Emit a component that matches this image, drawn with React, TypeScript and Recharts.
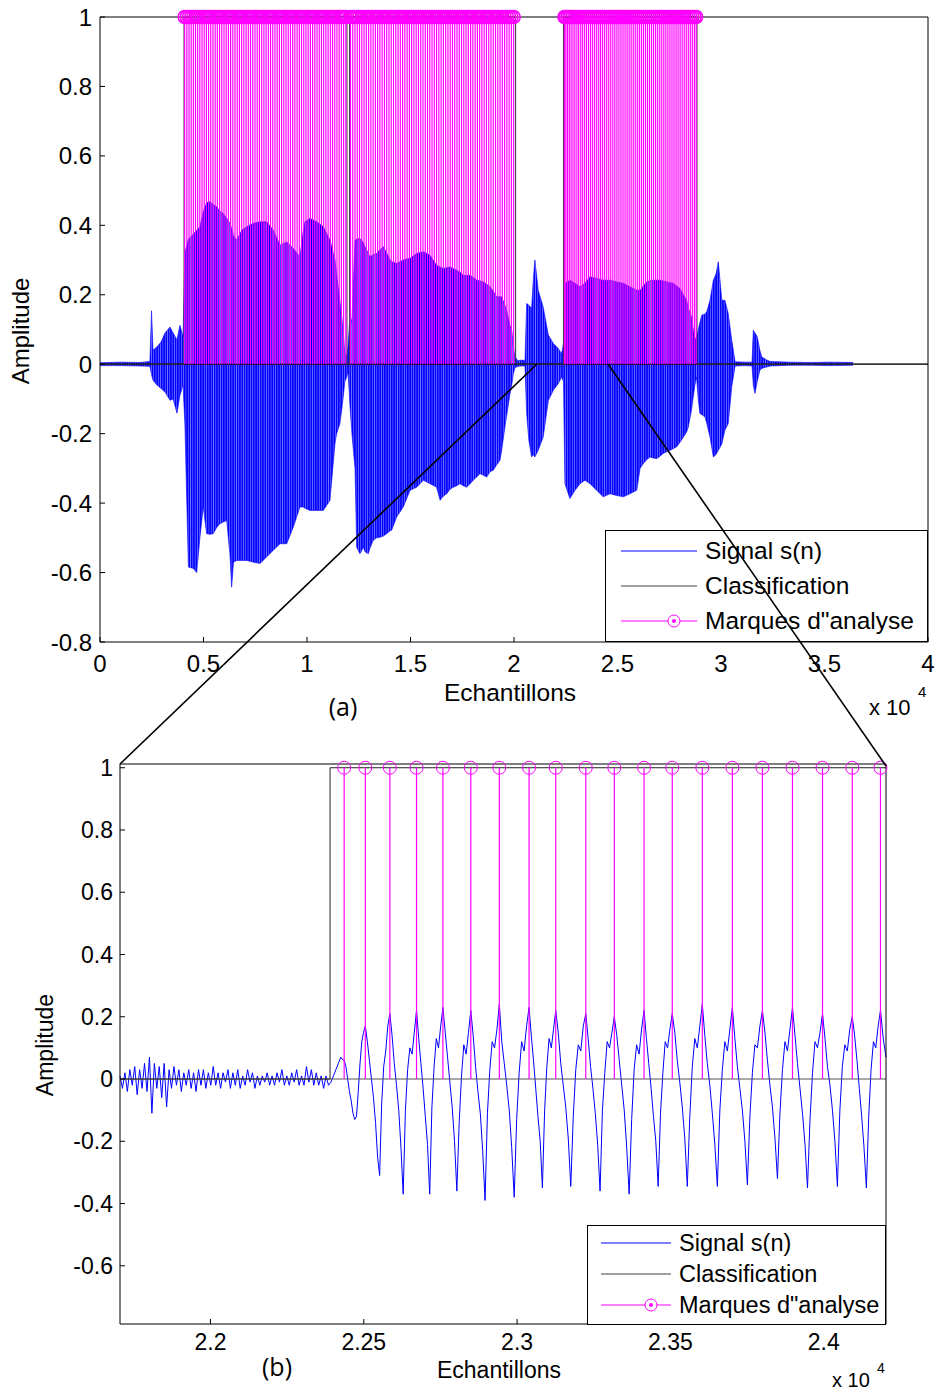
import React from 'react';
import { ComposedChart, Area, Line, Scatter, XAxis, YAxis, ReferenceLine } from 'recharts';

const FONT = '"Liberation Sans", Arial, Helvetica, sans-serif';
const BLUE = '#0000ff';
const MAGENTA = '#ff00ff';

// ---------- (a) whole utterance: envelope of s(n) (sample index, max, min)
const envX = [
  0, 970, 1930, 2410, 2490, 2560, 2750, 2950, 3140, 3380,
  3530, 3720, 3860, 4010, 4100, 4270, 4510, 4670, 4830, 4990,
  5150, 5310, 5470, 5640, 5800, 5940, 6120, 6280, 6360, 6450,
  6600, 6850, 7090, 7410, 7730, 8050, 8370, 8700, 9020, 9340,
  9660, 9810, 9900, 10140, 10470, 10790, 11110, 11350, 11430, 11590,
  11680, 11750, 11830, 11920, 11980, 12080, 12170, 12320, 12400, 12560,
  12720, 12800, 12960, 13040, 13200, 13370, 13530, 13690, 13850, 14010,
  14090, 14330, 14650, 14980, 15300, 15620, 15940, 16260, 16430, 16580,
  16750, 16910, 17070, 17230, 17390, 17550, 17710, 17870, 18030, 18200,
  18360, 18520, 18680, 18840, 19000, 19160, 19320, 19400, 19560, 19640,
  19810, 19890, 19970, 20050, 20190, 20390, 20530, 20610, 20720, 20850,
  20940, 21010, 21170, 21410, 21660, 21900, 22140, 22300, 22390, 22460,
  22700, 22950, 23190, 23430, 23670, 23990, 24310, 24640, 24960, 25280,
  25600, 25930, 26090, 26250, 26410, 26570, 26730, 26890, 27050, 27210,
  27380, 27540, 27700, 27860, 28020, 28180, 28340, 28420, 28580, 28660,
  28740, 28820, 28900, 28980, 29070, 29230, 29310, 29470, 29630, 29760,
  29870, 30040, 30110, 30190, 30350, 30520, 30680, 31160, 31500, 31560,
  31640, 31750, 31880, 31970, 32210, 32370, 33330, 34300, 35270, 36380,
];
const envHi = [
  0.004, 0.006, 0.005, 0.008, 0.154, 0.04, 0.05, 0.064, 0.09, 0.107,
  0.09, 0.07, 0.112, 0.08, 0.32, 0.36, 0.375, 0.385, 0.396, 0.44,
  0.465, 0.468, 0.46, 0.453, 0.44, 0.435, 0.42, 0.406, 0.39, 0.37,
  0.357, 0.386, 0.396, 0.406, 0.41, 0.41, 0.386, 0.343, 0.352, 0.333,
  0.309, 0.38, 0.41, 0.42, 0.41, 0.396, 0.357, 0.3, 0.261, 0.18,
  0.136, 0.09, 0.03, 0.02, 0.05, 0.141, 0.12, 0.357, 0.36, 0.362,
  0.35, 0.338, 0.32, 0.309, 0.315, 0.319, 0.33, 0.338, 0.32, 0.3,
  0.295, 0.29, 0.3, 0.305, 0.319, 0.324, 0.314, 0.285, 0.28, 0.276,
  0.278, 0.28, 0.275, 0.271, 0.265, 0.256, 0.256, 0.256, 0.25, 0.242,
  0.24, 0.237, 0.23, 0.223, 0.21, 0.194, 0.194, 0.194, 0.17, 0.156,
  0.11, 0.098, 0.05, 0.021, 0.01, 0.012, 0.01, 0.175, 0.17, 0.161,
  0.25, 0.3, 0.213, 0.165, 0.084, 0.06, 0.045, 0.03, 0.06, 0.233,
  0.242, 0.233, 0.223, 0.233, 0.252, 0.247, 0.242, 0.242, 0.237, 0.233,
  0.223, 0.213, 0.213, 0.225, 0.237, 0.24, 0.242, 0.242, 0.242, 0.24,
  0.237, 0.235, 0.233, 0.225, 0.218, 0.2, 0.184, 0.16, 0.136, 0.1,
  0.069, 0.08, 0.098, 0.12, 0.141, 0.145, 0.151, 0.184, 0.242, 0.26,
  0.295, 0.184, 0.184, 0.184, 0.146, 0.069, 0.007, 0.006, 0.006, 0.098,
  0.09, 0.079, 0.04, 0.021, 0.012, 0.008, 0.006, 0.005, 0.006, 0.005,
];
const envLo = [
  -0.004, -0.004, -0.005, -0.006, -0.03, -0.046, -0.06, -0.07, -0.08, -0.104,
  -0.1, -0.141, -0.09, -0.06, -0.171, -0.584, -0.588, -0.6, -0.498, -0.411,
  -0.488, -0.49, -0.488, -0.47, -0.459, -0.455, -0.45, -0.55, -0.642, -0.57,
  -0.565, -0.565, -0.565, -0.57, -0.574, -0.555, -0.536, -0.517, -0.517, -0.469,
  -0.411, -0.411, -0.415, -0.421, -0.421, -0.421, -0.392, -0.229, -0.2, -0.171,
  -0.13, -0.094, -0.05, -0.037, -0.02, -0.123, -0.2, -0.3, -0.527, -0.546,
  -0.527, -0.54, -0.546, -0.53, -0.507, -0.5, -0.498, -0.495, -0.488, -0.48,
  -0.478, -0.44, -0.411, -0.363, -0.354, -0.334, -0.344, -0.354, -0.392, -0.38,
  -0.373, -0.36, -0.354, -0.35, -0.344, -0.35, -0.354, -0.345, -0.334, -0.325,
  -0.315, -0.32, -0.325, -0.31, -0.305, -0.29, -0.277, -0.25, -0.181, -0.15,
  -0.084, -0.06, -0.027, -0.01, -0.006, -0.005, -0.005, -0.142, -0.22, -0.267,
  -0.26, -0.267, -0.248, -0.21, -0.104, -0.075, -0.056, -0.037, -0.05, -0.344,
  -0.387, -0.363, -0.344, -0.334, -0.344, -0.363, -0.382, -0.373, -0.378, -0.382,
  -0.373, -0.363, -0.3, -0.286, -0.275, -0.267, -0.27, -0.272, -0.265, -0.257,
  -0.252, -0.248, -0.243, -0.238, -0.225, -0.21, -0.195, -0.181, -0.13, -0.094,
  -0.06, -0.037, -0.1, -0.142, -0.145, -0.152, -0.17, -0.21, -0.267, -0.26,
  -0.248, -0.23, -0.21, -0.19, -0.171, -0.065, -0.005, -0.004, -0.005, -0.06,
  -0.084, -0.05, -0.017, -0.012, -0.008, -0.005, -0.003, -0.003, -0.004, -0.003,
];

// voiced / unvoiced decision: switch points and the value that starts there
const classX = [0, 4060, 11930, 12060, 20080, 22390, 28840, 40000];
const classV = [0, 1, 0, 1, 0, 1, 0, 0];

// analysis marks (sample index)
const marks = [
  4090, 4196, 4301, 4405, 4510, 4614, 4719, 4823, 4928, 5033,
  5139, 5244, 5350, 5456, 5563, 5669, 5776, 5882, 5989, 6095,
  6202, 6309, 6416, 6522, 6629, 6736, 6843, 6950, 7058, 7165,
  7272, 7380, 7487, 7595, 7702, 7810, 7917, 8024, 8131, 8238,
  8345, 8452, 8559, 8666, 8773, 8880, 8987, 9094, 9201, 9308,
  9415, 9522, 9629, 9736, 9843, 9950, 10057, 10164, 10271, 10378,
  10485, 10592, 10699, 10806, 10913, 11020, 11127, 11234, 11341, 11448,
  11555, 11662, 11769, 11876,
  12100, 12209, 12318, 12428, 12537, 12647, 12756, 12866, 12975, 13085,
  13194, 13304, 13413, 13523, 13632, 13742, 13851, 13961, 14070, 14180,
  14289, 14399, 14508, 14618, 14727, 14837, 14946, 15056, 15165, 15275,
  15384, 15494, 15603, 15713, 15822, 15932, 16041, 16151, 16260, 16370,
  16479, 16589, 16698, 16808, 16917, 17027, 17136, 17246, 17355, 17465,
  17574, 17684, 17793, 17903, 18012, 18122, 18231, 18341, 18450, 18560,
  18669, 18779, 18888, 18998, 19107, 19217, 19326, 19436, 19545, 19655,
  19764, 19874, 19983,
  22436, 22505, 22585, 22672, 22758, 22849, 22942, 23039, 23126, 23224,
  23317, 23414, 23506, 23604, 23702, 23800, 23898, 23996, 24093, 24185,
  24283, 24380, 24479, 24577, 24676, 24774, 24873, 24971, 25070, 25168,
  25267, 25365, 25464, 25562, 25661, 25759, 25858, 25956, 26055, 26153,
  26252, 26350, 26449, 26547, 26646, 26744, 26843, 26941, 27040, 27138,
  27237, 27335, 27434, 27532, 27631, 27729, 27828, 27926, 28025, 28123,
  28222, 28320, 28419, 28517, 28616, 28714, 28800,
];

// ---------- (b) zoom: samples 21705..24203
const zoomFrom = 21705;
const zoomTo = 24203;
const noiseStep = 8;
const noiseVals = [
  0.01, -0.03, 0.02, -0.04, 0.03, -0.02, 0.04, -0.05, 0.03, -0.03,
  0.05, -0.04, 0.07, -0.11, 0.05, -0.03, 0.04, -0.06, 0.05, -0.09,
  0.03, -0.03, 0.04, -0.02, 0.03, -0.04, 0.02, -0.02, 0.03, -0.03,
  0.02, -0.04, 0.03, -0.02, 0.03, -0.03, 0.02, -0.02, 0.04, -0.02,
  0.02, -0.03, 0.02, -0.01, 0.03, -0.03, 0.02, -0.02, 0.03, -0.03,
  0.01, -0.02, 0.03, -0.01, 0.02, -0.03, 0.01, -0.02, 0.01, -0.01,
  0.02, -0.02, 0.01, -0.02, 0.02, -0.01, 0.03, -0.02, 0.01, -0.02,
  0.02, -0.01, 0.03, -0.02, 0.01, -0.02, 0.04, -0.01, 0.03, -0.02,
  0.02, -0.02, 0.01, -0.03, 0.01, -0.02, -0.01, 0.01, 0.03, 0.05,
  0.07, 0.06,
];
// one row per pitch period, 12 values from one mark to the next
const periodShapes = [
  [0.06, 0.04, 0.0, -0.04, -0.07, -0.11, -0.13, -0.12, -0.04, 0.05, 0.12, 0.15],
  [0.17, 0.12, 0.06, 0.0, -0.06, -0.14, -0.25, -0.31, -0.08, 0.04, 0.09, 0.17],
  [0.21, 0.14, 0.05, -0.02, -0.1, -0.22, -0.37, -0.1, 0.03, 0.1, 0.08, 0.15],
  [0.22, 0.13, 0.05, -0.03, -0.12, -0.21, -0.37, -0.09, 0.04, 0.13, 0.1, 0.17],
  [0.23, 0.15, 0.07, -0.01, -0.09, -0.2, -0.36, -0.14, 0.01, 0.11, 0.08, 0.15],
  [0.22, 0.14, 0.04, -0.04, -0.11, -0.23, -0.39, -0.11, 0.03, 0.12, 0.1, 0.16],
  [0.24, 0.12, 0.05, -0.02, -0.1, -0.22, -0.38, -0.13, 0.02, 0.12, 0.09, 0.17],
  [0.23, 0.14, 0.06, -0.03, -0.12, -0.2, -0.35, -0.1, 0.04, 0.13, 0.1, 0.16],
  [0.22, 0.15, 0.05, -0.02, -0.09, -0.19, -0.345, -0.12, 0.03, 0.11, 0.09, 0.17],
  [0.21, 0.13, 0.04, -0.03, -0.11, -0.21, -0.36, -0.1, 0.02, 0.12, 0.1, 0.15],
  [0.2, 0.14, 0.06, -0.02, -0.1, -0.22, -0.37, -0.13, 0.03, 0.11, 0.08, 0.16],
  [0.22, 0.13, 0.05, -0.03, -0.12, -0.2, -0.345, -0.11, 0.02, 0.12, 0.1, 0.16],
  [0.21, 0.15, 0.06, -0.01, -0.09, -0.19, -0.345, -0.12, 0.04, 0.13, 0.1, 0.17],
  [0.24, 0.14, 0.05, -0.02, -0.11, -0.21, -0.345, -0.1, 0.03, 0.12, 0.09, 0.16],
  [0.23, 0.13, 0.04, -0.03, -0.1, -0.2, -0.34, -0.12, 0.02, 0.11, 0.1, 0.17],
  [0.22, 0.15, 0.06, -0.02, -0.09, -0.19, -0.32, -0.11, 0.03, 0.12, 0.09, 0.16],
  [0.23, 0.14, 0.05, -0.03, -0.11, -0.21, -0.35, -0.13, 0.02, 0.12, 0.1, 0.15],
  [0.21, 0.13, 0.04, -0.02, -0.1, -0.2, -0.345, -0.1, 0.04, 0.11, 0.09, 0.16],
  [0.2, 0.14, 0.06, -0.03, -0.12, -0.22, -0.35, -0.12, 0.03, 0.12, 0.1, 0.17],
];
const tailX = [24185, 24194, 24203];
const tailS = [0.22, 0.13, 0.07];

// ---------- axes
const topXTicks = [0, 5000, 10000, 15000, 20000, 25000, 30000, 35000, 40000];
const topYTicks = [-0.8, -0.6, -0.4, -0.2, 0, 0.2, 0.4, 0.6, 0.8, 1];
const zoomXTicks = [22000, 22500, 23000, 23500, 24000];
const zoomYTicks = [-0.6, -0.4, -0.2, 0, 0.2, 0.4, 0.6, 0.8, 1];

const fmtX = (v: number) => (v === 0 ? '0' : String(v / 10000));
const fmtY = (v: number) => String(v);

// ---------- derived series
const envData = envX.map((x, i) => ({ x, r: [envLo[i], envHi[i]] }));

const stepsBetween = (lo: number, hi: number) => {
  let v = classV[0];
  classX.forEach((x, i) => { if (x <= lo) v = classV[i]; });
  const pts = [{ x: lo, c: v }];
  classX.forEach((x, i) => {
    if (x > lo && x < hi) { pts.push({ x, c: classV[i] }); v = classV[i]; }
  });
  pts.push({ x: hi, c: v });
  return pts;
};

const stemsOf = (ms: number[]) =>
  ms.flatMap((m) => [{ x: m, st: 0 }, { x: m, st: 1 }, { x: m, st: null as number | null }]);
const headsOf = (ms: number[]) => ms.map((m) => ({ x: m, y: 1 }));

const zoomMarks = marks.filter((m) => m >= zoomFrom && m <= zoomTo);
const zoomSignal = [
  ...noiseVals.map((s, i) => ({ x: zoomFrom + i * noiseStep, s })),
  ...periodShapes.flatMap((shape, i) =>
    shape.map((s, k) => ({
      x: zoomMarks[i] + (k * (zoomMarks[i + 1] - zoomMarks[i])) / shape.length,
      s,
    }))
  ),
  ...tailX.map((x, i) => ({ x, s: tailS[i] })),
];

const head = (r: number, w: number) => (p: any) =>
  <circle cx={p.cx} cy={p.cy} r={r} fill="none" stroke={MAGENTA} strokeWidth={w} />;

const black = { stroke: '#000' };

const Legend = ({ x, y, w, h, rows, l1, l2, mx, tx, fs }: any) => (
  <g fontFamily={FONT} fontSize={fs} fill="#000">
    <rect x={x} y={y} width={w} height={h} fill="#fff" stroke="#000" strokeWidth={1} />
    <line x1={l1} x2={l2} y1={rows[0]} y2={rows[0]} stroke={BLUE} strokeWidth={1} />
    <text x={tx} y={rows[0] + 8}>Signal s(n)</text>
    <line x1={l1} x2={l2} y1={rows[1]} y2={rows[1]} stroke="#444" strokeWidth={1} />
    <text x={tx} y={rows[1] + 8}>Classification</text>
    <line x1={l1} x2={l2} y1={rows[2]} y2={rows[2]} stroke={MAGENTA} strokeWidth={1} />
    <circle cx={mx} cy={rows[2]} r={6} fill="#fff" stroke={MAGENTA} strokeWidth={1} />
    <circle cx={mx} cy={rows[2]} r={2} fill={MAGENTA} />
    <text x={tx} y={rows[2] + 8}>{'Marques d"analyse'}</text>
  </g>
);

export default function App() {
  const classTop = stepsBetween(0, 40000);
  const classZoom = stepsBetween(zoomFrom, zoomTo);
  const topFont = { fill: '#000', fontSize: 24, fontFamily: FONT };
  const zoomFont = { fill: '#000', fontSize: 23, fontFamily: FONT };

  return (
    <div style={{ position: 'relative', width: 936, height: 1393, background: '#fff' }}>
      <style>{'body{margin:0}'}</style>

      {/* (a) */}
      <div style={{ position: 'absolute', left: 0, top: 0 }}>
        <ComposedChart width={936} height={720} margin={{ top: 16, right: 7, left: 40, bottom: 48 }}>
          <defs>
            <pattern id="sigStripes" patternUnits="userSpaceOnUse" width={2.3} height={10}>
              <rect x={0} y={0} width={2.3} height={10} fill="#7b7bff" />
              <rect x={0} y={0} width={1.6} height={10} fill={BLUE} />
            </pattern>
          </defs>
          <XAxis type="number" dataKey="x" domain={[0, 40000]} ticks={topXTicks} tickFormatter={fmtX}
            interval={0} height={30} tickSize={-5} tickMargin={18}
            axisLine={black} tickLine={black} tick={topFont} />
          <XAxis xAxisId="top" orientation="top" type="number" dataKey="x" domain={[0, 40000]}
            ticks={topXTicks} interval={0} height={1} tickSize={-5} tick={false}
            axisLine={black} tickLine={black} />
          <YAxis type="number" domain={[-0.8, 1]} ticks={topYTicks} tickFormatter={fmtY} interval={0}
            width={60} tickSize={-5} tickMargin={13}
            axisLine={black} tickLine={black} tick={topFont} />
          <YAxis yAxisId="right" orientation="right" type="number" domain={[-0.8, 1]} ticks={topYTicks}
            interval={0} width={1} tickSize={-5} tick={false}
            axisLine={black} tickLine={black} />
          <Area data={envData} dataKey="r" type="linear" stroke={BLUE} strokeWidth={0.6}
            fill="url(#sigStripes)" fillOpacity={1} dot={false} activeDot={false} isAnimationActive={false} />
          <ReferenceLine y={0} stroke="#000" strokeWidth={1.2} />
          <Line data={classTop} dataKey="c" type="stepAfter" stroke="#333" strokeWidth={1}
            dot={false} activeDot={false} isAnimationActive={false} />
          <Line data={stemsOf(marks)} dataKey="st" type="linear" stroke={MAGENTA} strokeWidth={1.2}
            dot={false} activeDot={false} isAnimationActive={false} />
          <Scatter data={headsOf(marks)} dataKey="y" shape={head(6.5, 1.5)} isAnimationActive={false} />
        </ComposedChart>
      </div>

      {/* (b) */}
      <div style={{ position: 'absolute', left: 0, top: 740 }}>
        <ComposedChart width={936} height={650} margin={{ top: 23, right: 49, left: 60, bottom: 36 }}>
          <XAxis type="number" dataKey="x" domain={[zoomFrom, zoomTo]} ticks={zoomXTicks} tickFormatter={fmtX}
            interval={0} height={30} tickSize={-5} tickMargin={15}
            axisLine={black} tickLine={black} tick={zoomFont} />
          <XAxis xAxisId="top" orientation="top" type="number" dataKey="x" domain={[zoomFrom, zoomTo]}
            ticks={zoomXTicks} interval={0} height={1} tickSize={-5} tick={false}
            axisLine={black} tickLine={black} />
          <YAxis type="number" domain={[-0.787, 1.012]} ticks={zoomYTicks} tickFormatter={fmtY} interval={0}
            width={60} tickSize={-5} tickMargin={12}
            axisLine={black} tickLine={black} tick={zoomFont} />
          <YAxis yAxisId="right" orientation="right" type="number" domain={[-0.787, 1.012]} ticks={zoomYTicks}
            interval={0} width={1} tickSize={-5} tick={false}
            axisLine={black} tickLine={black} />
          <Line data={zoomSignal} dataKey="s" type="linear" stroke={BLUE} strokeWidth={1}
            dot={false} activeDot={false} isAnimationActive={false} />
          <ReferenceLine y={0} stroke="#555" strokeWidth={1.2} />
          <Line data={classZoom} dataKey="c" type="stepAfter" stroke="#222" strokeWidth={1}
            dot={false} activeDot={false} isAnimationActive={false} />
          <Line data={stemsOf(zoomMarks)} dataKey="st" type="linear" stroke={MAGENTA} strokeWidth={1.2}
            dot={false} activeDot={false} isAnimationActive={false} />
          <Scatter data={headsOf(zoomMarks)} dataKey="y" shape={head(6.5, 1)} isAnimationActive={false} />
        </ComposedChart>
      </div>

      {/* legends, labels and the zoom connectors */}
      <svg width={936} height={1393} style={{ position: 'absolute', left: 0, top: 0, pointerEvents: 'none' }}>
        <Legend x={605.5} y={530.5} w={322} h={111} rows={[551, 586, 621]} l1={621} l2={697} mx={674} tx={705} fs={24.5} />
        <Legend x={587.5} y={1225.5} w={298} h={99} rows={[1243, 1274, 1305]} l1={601} l2={671} mx={651} tx={679} fs={23.5} />

        <g fontFamily={FONT} fill="#000">
          <text transform="translate(29,331) rotate(-90)" textAnchor="middle" fontSize={24}>Amplitude</text>
          <text x={510} y={701} textAnchor="middle" fontSize={24.5}>Echantillons</text>
          <text x={869} y={715} fontSize={22}>x 10</text>
          <text x={918} y={697} fontSize={15}>4</text>

          <text transform="translate(53,1045) rotate(-90)" textAnchor="middle" fontSize={23}>Amplitude</text>
          <text x={499} y={1378} textAnchor="middle" fontSize={23}>Echantillons</text>
          <text x={832} y={1387} fontSize={20}>x 10</text>
          <text x={877} y={1373} fontSize={14}>4</text>
        </g>
        <g fontFamily='"Open Sans", "Noto Sans", sans-serif' fontSize={25} fill="#000">
          <text x={343} y={716} textAnchor="middle">(a)</text>
          <text x={277} y={1376} textAnchor="middle">(b)</text>
        </g>

        <line x1={537} y1={364} x2={120} y2={764} stroke="#000" strokeWidth={1.6} />
        <line x1={608} y1={364} x2={886} y2={766} stroke="#000" strokeWidth={1.6} />
      </svg>
    </div>
  );
}
